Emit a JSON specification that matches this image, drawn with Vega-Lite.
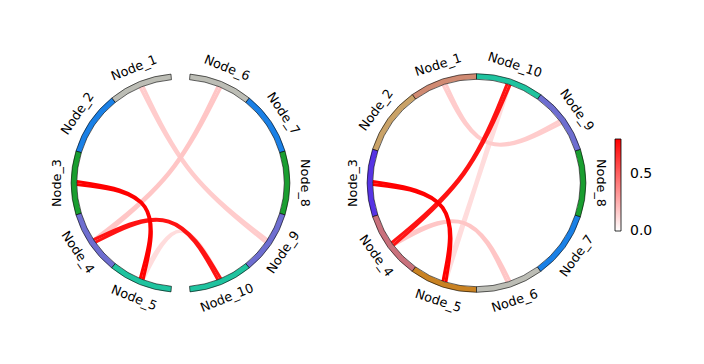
{
  "$schema": "https://vega.github.io/schema/vega-lite/v6.json",
  "padding": {"left": 42.5, "top": 45, "right": 5, "bottom": 5},
  "bounds": "flush",
  "spacing": 20,
  "config": {"view": {"stroke": null}},
  "datasets": {
    "nodes": [
      {"p": "L", "node": "Node_1", "id": "L:Node_1", "start": 321, "end": 355},
      {"p": "L", "node": "Node_2", "id": "L:Node_2", "start": 287, "end": 321},
      {"p": "L", "node": "Node_3", "id": "L:Node_3", "start": 253, "end": 287},
      {"p": "L", "node": "Node_4", "id": "L:Node_4", "start": 219, "end": 253},
      {"p": "L", "node": "Node_5", "id": "L:Node_5", "start": 185, "end": 219},
      {"p": "L", "node": "Node_6", "id": "L:Node_6", "start": 5, "end": 39},
      {"p": "L", "node": "Node_7", "id": "L:Node_7", "start": 39, "end": 73},
      {"p": "L", "node": "Node_8", "id": "L:Node_8", "start": 73, "end": 107},
      {"p": "L", "node": "Node_9", "id": "L:Node_9", "start": 107, "end": 141},
      {"p": "L", "node": "Node_10", "id": "L:Node_10", "start": 141, "end": 175},
      {"p": "R", "node": "Node_1", "id": "R:Node_1", "start": 324, "end": 360},
      {"p": "R", "node": "Node_2", "id": "R:Node_2", "start": 288, "end": 324},
      {"p": "R", "node": "Node_3", "id": "R:Node_3", "start": 252, "end": 288},
      {"p": "R", "node": "Node_4", "id": "R:Node_4", "start": 216, "end": 252},
      {"p": "R", "node": "Node_5", "id": "R:Node_5", "start": 180, "end": 216},
      {"p": "R", "node": "Node_6", "id": "R:Node_6", "start": 144, "end": 180},
      {"p": "R", "node": "Node_7", "id": "R:Node_7", "start": 108, "end": 144},
      {"p": "R", "node": "Node_8", "id": "R:Node_8", "start": 72, "end": 108},
      {"p": "R", "node": "Node_9", "id": "R:Node_9", "start": 36, "end": 72},
      {"p": "R", "node": "Node_10", "id": "R:Node_10", "start": 0, "end": 36}
    ],
    "links": [
      {"p": "L", "src": "Node_5", "dst": "Node_10", "v": 0.11},
      {"p": "L", "src": "Node_1", "dst": "Node_9", "v": 0.16},
      {"p": "L", "src": "Node_6", "dst": "Node_4", "v": 0.18},
      {"p": "L", "src": "Node_4", "dst": "Node_10", "v": 0.74},
      {"p": "L", "src": "Node_3", "dst": "Node_5", "v": 0.8},
      {"p": "R", "src": "Node_5", "dst": "Node_10", "v": 0.11},
      {"p": "R", "src": "Node_1", "dst": "Node_9", "v": 0.16},
      {"p": "R", "src": "Node_6", "dst": "Node_4", "v": 0.18},
      {"p": "R", "src": "Node_4", "dst": "Node_10", "v": 0.74},
      {"p": "R", "src": "Node_3", "dst": "Node_5", "v": 0.8}
    ]
  },
  "resolve": {"scale": {"fill": "independent", "stroke": "independent", "x": "independent", "y": "independent", "theta": "independent"}},
  "hconcat": [
    {
      "width": 276,
      "height": 276,
      "layer": [
        {
          "data": {"name": "links"},
          "transform": [
            {"filter": "datum.p == 'L'"},
            {"calculate": "datum.p + ':' + datum.src", "as": "sk"},
            {"calculate": "datum.p + ':' + datum.dst", "as": "dk"},
            {"lookup": "sk", "from": {"data": {"name": "nodes"}, "key": "id", "fields": ["start", "end"]}, "as": ["s0", "s1"]},
            {"lookup": "dk", "from": {"data": {"name": "nodes"}, "key": "id", "fields": ["start", "end"]}, "as": ["d0", "d1"]},
            {"fold": ["e1", "e2"], "as": ["edge", "unused"]},
            {"calculate": "datum.edge == 'e1' ? 1 : -1", "as": "sgn"},
            {"calculate": "(datum.s0 + datum.s1) / 2 + datum.sgn * 0.85", "as": "from"},
            {"calculate": "(datum.d0 + datum.d1) / 2 - datum.sgn * 0.85", "as": "to"},
            {"fold": ["from", "via", "to"], "as": ["step", "ang"]},
            {"calculate": "isValid(datum.ang) ? sin(datum.ang * PI / 180) : 0", "as": "cx"},
            {"calculate": "isValid(datum.ang) ? cos(datum.ang * PI / 180) : 0", "as": "cy"}
          ],
          "mark": {"type": "line", "interpolate": "bundle", "tension": 0.75, "strokeWidth": 3, "strokeCap": "butt"},
          "encoding": {
            "x": {"field": "cx", "type": "quantitative", "scale": {"domain": [-1.331, 1.331], "nice": false, "zero": false}, "axis": null},
            "y": {"field": "cy", "type": "quantitative", "scale": {"domain": [-1.331, 1.331], "nice": false, "zero": false}, "axis": null},
            "detail": [{"field": "src"}, {"field": "dst"}, {"field": "edge"}],
            "order": {"value": null},
            "stroke": {"field": "v", "type": "quantitative", "scale": {"domain": [0, 0.8], "range": ["#ffffff", "#ff0000"], "interpolate": "rgb"}, "legend": null}
          }
        },
        {
          "data": {"name": "nodes"},
          "transform": [{"filter": "datum.p == 'L'"}],
          "mark": {"type": "arc", "stroke": "black", "strokeWidth": 0.6, "radius": 109.3, "radius2": 103.7},
          "encoding": {
            "theta": {"field": "start", "type": "quantitative", "stack": null, "scale": {"domain": [0, 360], "range": [0, 6.283185307179586], "zero": false, "nice": false}},
            "theta2": {"field": "end"},
            "fill": {"field": "node", "type": "nominal", "legend": null, "scale": {"domain": ["Node_1", "Node_2", "Node_3", "Node_4", "Node_5", "Node_6", "Node_7", "Node_8", "Node_9", "Node_10"], "range": ["#bcbdb5", "#1a80e6", "#1a9e30", "#6e6ed0", "#1fc39f", "#bcbdb5", "#1a80e6", "#1a9e30", "#6e6ed0", "#1fc39f"]}}
          }
        },
        {
          "data": {"name": "nodes"},
          "transform": [
            {"filter": "datum.p == 'L'"},
            {"calculate": "(datum.start + datum.end) / 2", "as": "mid"},
            {"calculate": "datum.mid > 90 && datum.mid < 270 ? datum.mid - 180 : datum.mid", "as": "rot"}
          ],
          "mark": {"type": "text", "radius": 124, "font": "DejaVu Sans", "fontSize": 12.8, "align": "center", "baseline": "middle", "color": "black"},
          "encoding": {
            "theta": {"field": "mid", "type": "quantitative", "stack": null, "scale": {"domain": [0, 360], "range": [0, 6.283185307179586], "zero": false, "nice": false}},
            "angle": {"field": "rot", "type": "quantitative", "scale": null},
            "text": {"field": "node"}
          }
        }
      ]
    },
    {
      "width": 276,
      "height": 276,
      "layer": [
        {
          "data": {"name": "links"},
          "transform": [
            {"filter": "datum.p == 'R'"},
            {"calculate": "datum.p + ':' + datum.src", "as": "sk"},
            {"calculate": "datum.p + ':' + datum.dst", "as": "dk"},
            {"lookup": "sk", "from": {"data": {"name": "nodes"}, "key": "id", "fields": ["start", "end"]}, "as": ["s0", "s1"]},
            {"lookup": "dk", "from": {"data": {"name": "nodes"}, "key": "id", "fields": ["start", "end"]}, "as": ["d0", "d1"]},
            {"fold": ["e1", "e2"], "as": ["edge", "unused"]},
            {"calculate": "datum.edge == 'e1' ? 1 : -1", "as": "sgn"},
            {"calculate": "(datum.s0 + datum.s1) / 2 + datum.sgn * 0.85", "as": "from"},
            {"calculate": "(datum.d0 + datum.d1) / 2 - datum.sgn * 0.85", "as": "to"},
            {"fold": ["from", "via", "to"], "as": ["step", "ang"]},
            {"calculate": "isValid(datum.ang) ? sin(datum.ang * PI / 180) : 0", "as": "cx"},
            {"calculate": "isValid(datum.ang) ? cos(datum.ang * PI / 180) : 0", "as": "cy"}
          ],
          "mark": {"type": "line", "interpolate": "bundle", "tension": 0.75, "strokeWidth": 3, "strokeCap": "butt"},
          "encoding": {
            "x": {"field": "cx", "type": "quantitative", "scale": {"domain": [-1.331, 1.331], "nice": false, "zero": false}, "axis": null},
            "y": {"field": "cy", "type": "quantitative", "scale": {"domain": [-1.331, 1.331], "nice": false, "zero": false}, "axis": null},
            "detail": [{"field": "src"}, {"field": "dst"}, {"field": "edge"}],
            "order": {"value": null},
            "stroke": {
              "field": "v", "type": "quantitative",
              "scale": {"domain": [0, 0.8], "range": ["#ffffff", "#ff0000"], "interpolate": "rgb"},
              "legend": {
                "orient": "none", "legendX": 276.5, "legendY": 94, "title": null, "direction": "vertical",
                "gradientLength": 92, "gradientThickness": 6, "gradientStrokeColor": "black", "gradientStrokeWidth": 0.8,
                "labelFontSize": 14, "labelFont": "DejaVu Sans", "labelColor": "black", "values": [0, 0.5], "format": ".1f", "labelOffset": 9,
                "encode": {"labels": {"update": {"baseline": {"value": "middle"}}}}
              }
            }
          }
        },
        {
          "data": {"name": "nodes"},
          "transform": [{"filter": "datum.p == 'R'"}],
          "mark": {"type": "arc", "stroke": "black", "strokeWidth": 0.6, "radius": 109.3, "radius2": 103.7},
          "encoding": {
            "theta": {"field": "start", "type": "quantitative", "stack": null, "scale": {"domain": [0, 360], "range": [0, 6.283185307179586], "zero": false, "nice": false}},
            "theta2": {"field": "end"},
            "fill": {"field": "node", "type": "nominal", "legend": null, "scale": {"domain": ["Node_1", "Node_2", "Node_3", "Node_4", "Node_5", "Node_6", "Node_7", "Node_8", "Node_9", "Node_10"], "range": ["#d08a72", "#c9a267", "#5634e4", "#c9717c", "#c98222", "#bcbdb5", "#1a80e6", "#1a9e30", "#6e6ed0", "#1fc39f"]}}
          }
        },
        {
          "data": {"name": "nodes"},
          "transform": [
            {"filter": "datum.p == 'R'"},
            {"calculate": "(datum.start + datum.end) / 2", "as": "mid"},
            {"calculate": "datum.mid > 90 && datum.mid < 270 ? datum.mid - 180 : datum.mid", "as": "rot"}
          ],
          "mark": {"type": "text", "radius": 124, "font": "DejaVu Sans", "fontSize": 12.8, "align": "center", "baseline": "middle", "color": "black"},
          "encoding": {
            "theta": {"field": "mid", "type": "quantitative", "stack": null, "scale": {"domain": [0, 360], "range": [0, 6.283185307179586], "zero": false, "nice": false}},
            "angle": {"field": "rot", "type": "quantitative", "scale": null},
            "text": {"field": "node"}
          }
        }
      ]
    }
  ]
}
